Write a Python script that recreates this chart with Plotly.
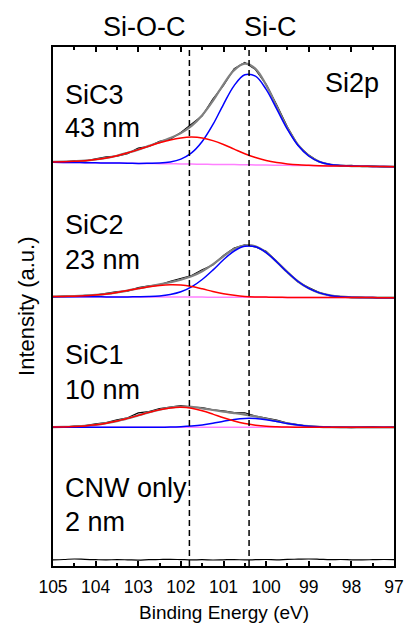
import plotly.graph_objects as go

# Binding energy grid (eV)
energy = [105.0, 104.75, 104.5, 104.25, 104.0, 103.75, 103.5, 103.25, 103.0, 102.75,
          102.5, 102.25, 102.0, 101.75, 101.5, 101.25, 101.0, 100.75, 100.5, 100.25,
          100.0, 99.75, 99.5, 99.25, 99.0, 98.75, 98.5, 98.25, 98.0, 97.75,
          97.5, 97.25, 97.0]

x_ticks = [105, 104, 103, 102, 101, 100, 99, 98, 97]
ref_lines = [101.8, 100.4]      # Si-O-C, Si-C

# ---- SiC3 (43 nm)
sic3_raw = [5.1, 4.8, 5.8, 5.7, 7.8, 9.8, 10.6, 13.1, 18.5, 20.3, 25.3, 27.6, 34.2, 42.3, 50.9,
            67.6, 81.4, 98.1, 104.2, 97.1, 82.3, 61.7, 39.7, 21.3, 11.6, 4.7, 2.4, 0.9, 1.4, 0.2,
            0.6, -0.1, 0.2]
sic3_env = [4.8, 5.0, 5.4, 6.0, 7.2, 8.8, 11.0, 13.9, 17.1, 20.8, 24.5, 28.6, 33.6, 40.8, 51.5,
            65.8, 82.4, 96.6, 103.0, 97.9, 81.8, 60.1, 38.7, 21.8, 11.0, 5.0, 2.2, 1.2, 0.6, 0.4,
            0.3, 0.1, 0.0]
sic3_bg = [4.4, 4.3, 4.2, 4.0, 3.9, 3.7, 3.6, 3.5, 3.3, 3.2, 3.0, 2.9, 2.8, 2.6, 2.5, 2.3, 2.2,
           2.1, 1.9, 1.8, 1.6, 1.5, 1.4, 1.2, 1.1, 0.9, 0.8, 0.7, 0.5, 0.4, 0.3, 0.1, 0.0]
sic3_sic = [0, 0, 0, 0, 0, 0, 0, 0, 0, 0.2, 0.6, 1.8, 4.8, 11.2, 22.7, 39.7, 60.2, 79.0, 90.0,
            88.7, 75.7, 56.0, 35.9, 19.9, 9.6, 4.0, 1.4, 0.5, 0.1, 0, 0, 0, 0]
sic3_sioc = [0.4, 0.7, 1.2, 2.0, 3.3, 5.1, 7.4, 10.4, 13.8, 17.4, 20.9, 23.9, 26.0, 27.0, 26.3,
             23.8, 20.0, 15.5, 11.1, 7.4, 4.5, 2.6, 1.4, 0.7, 0.3, 0.1, 0, 0, 0, 0, 0, 0, 0]

# ---- SiC2 (23 nm)
sic2_raw = [0.9, 1.6, 1.2, 2.4, 2.6, 4.3, 6.1, 6.6, 10.1, 11.9, 12.9, 16.5, 19.2, 22.2, 28.0,
            32.7, 42.3, 49.6, 52.9, 50.8, 46.5, 36.2, 26.4, 15.7, 10.1, 5.1, 2.0, 1.2, 0.1, 0.4,
            -0.3, 0.1, -0.3]
sic2_env = [1.1, 1.3, 1.5, 2.0, 2.8, 3.8, 5.3, 7.1, 9.2, 11.3, 13.3, 15.5, 18.0, 21.4, 26.5,
            33.3, 41.4, 48.6, 52.3, 51.3, 45.3, 35.8, 25.4, 16.2, 9.3, 4.8, 2.3, 1.0, 0.4, 0.2,
            0.1, 0.0, 0.0]
sic2_bg = [1.0, 1.0, 0.9, 0.9, 0.9, 0.8, 0.8, 0.8, 0.8, 0.7, 0.7, 0.7, 0.6, 0.6, 0.6, 0.5, 0.5,
           0.5, 0.4, 0.4, 0.4, 0.3, 0.3, 0.3, 0.3, 0.2, 0.2, 0.2, 0.1, 0.1, 0.1, 0.0, 0.0]
sic2_sic = [0, 0, 0, 0, 0, 0, 0, 0, 0.1, 0.4, 1.0, 2.5, 5.3, 10.2, 17.6, 27.1, 37.4, 46.2, 51.0,
            50.5, 44.7, 35.4, 25.1, 15.9, 9.0, 4.6, 2.1, 0.8, 0.3, 0.1, 0, 0, 0]
sic2_sioc = [0.1, 0.3, 0.6, 1.1, 1.9, 3.0, 4.5, 6.3, 8.3, 10.2, 11.6, 12.3, 12.1, 10.6, 8.3, 5.7,
             3.5, 1.9, 0.9, 0.4, 0.2, 0.1, 0, 0, 0, 0, 0, 0, 0, 0, 0, 0, 0]

# ---- SiC1 (10 nm)
sic1_raw = [0.3, 0.2, 1.2, 1.7, 3.5, 4.6, 7.4, 9.5, 14.4, 15.7, 18.8, 20.1, 21.6, 20.1, 19.8,
            17.5, 16.5, 14.6, 14.5, 11.2, 9.4, 7.2, 4.3, 2.6, 0.9, 0.8, 0.0, 0.2, -0.3, 0.2, 0.8,
            -0.2, 0.1]
sic1_env = [0.2, 0.4, 0.8, 1.4, 2.5, 4.1, 6.2, 8.9, 11.9, 14.9, 17.6, 19.6, 20.6, 20.4, 19.0,
            17.3, 15.6, 14.2, 12.7, 10.9, 8.6, 6.2, 3.9, 2.3, 1.1, 0.5, 0.2, 0, 0, 0, 0, 0, 0]
sic1_bg = [0] * 33
sic1_sic = [0, 0, 0, 0, 0, 0, 0, 0, 0, 0, 0, 0.2, 0.6, 1.3, 2.4, 4.1, 6.1, 7.9, 8.9, 8.8, 7.6,
            5.7, 3.7, 2.2, 1.1, 0.5, 0.2, 0, 0, 0, 0, 0, 0]
sic1_sioc = [0.2, 0.4, 0.8, 1.4, 2.5, 4.1, 6.2, 8.9, 11.9, 14.9, 17.6, 19.4, 20.0, 19.1, 16.6,
             13.2, 9.5, 6.3, 3.8, 2.1, 1.0, 0.5, 0.2, 0.1, 0, 0, 0, 0, 0, 0, 0, 0, 0]

# ---- CNW only (2 nm)
cnw_raw = [0.2, 0.5, 1.0, 0.6, 0.3, 0.1, 0.4, 0.2, -0.1, 0.3, 0.5, 0.7, 0.4, 0.1, 0.3, 0.0, 0.2,
           0.4, 0.1, 0.3, 0.5, 0.2, 0.6, 0.8, 1.0, 0.7, 0.3, 0.5, 0.2, 0.1, 0.3, 0.5, 0.4]

# stacking offsets (a.u.)
offsets = {"SiC3": 399.3, "SiC2": 268.3, "SiC1": 138.7, "CNW": 6.0}

FONT = "Arial, Liberation Sans, sans-serif"
PINK = "#ff80ff"
GRAY = "#808080"

fig = go.Figure()


def add(y, off, color, width, shape="spline"):
    fig.add_trace(go.Scatter(x=energy, y=[v + off for v in y], mode="lines",
                             line=dict(color=color, width=width, shape=shape),
                             showlegend=False, hoverinfo="skip"))


for name, raw, env, bg, sic, sioc in [
        ("SiC3", sic3_raw, sic3_env, sic3_bg, sic3_sic, sic3_sioc),
        ("SiC2", sic2_raw, sic2_env, sic2_bg, sic2_sic, sic2_sioc),
        ("SiC1", sic1_raw, sic1_env, sic1_bg, sic1_sic, sic1_sioc)]:
    off = offsets[name]
    add(bg, off, PINK, 1.5)
    add(raw, off, "black", 1.2, "linear")
    add(env, off, GRAY, 2.2)
    add([b + s for b, s in zip(bg, sic)], off, "#0000ff", 1.5)
    add([b + s for b, s in zip(bg, sioc)], off, "#ff0000", 1.5)

add(cnw_raw, offsets["CNW"], "black", 1.2, "spline")

for xv in ref_lines:
    fig.add_shape(type="line", x0=xv, x1=xv, xref="x", y0=0, y1=1, yref="paper",
                  line=dict(color="black", width=1.5, dash="6px,4px"))

ann = [
    ("SiC3", 104.77, 471), ("43 nm", 104.77, 438),
    ("SiC2", 104.77, 341), ("23 nm", 104.77, 306),
    ("SiC1", 104.77, 211), ("10 nm", 104.77, 176),
    ("CNW only", 104.77, 78), ("2 nm", 104.77, 44),
]
for t, xx, yy in ann:
    fig.add_annotation(text=t, x=xx, y=yy, xref="x", yref="y", xanchor="left",
                       yanchor="middle", showarrow=False,
                       font=dict(family=FONT, size=27, color="black"))

fig.add_annotation(text="Si2p", x=97.98, y=483, xref="x", yref="y", showarrow=False,
                   font=dict(family=FONT, size=27, color="black"))
fig.add_annotation(text="Si-O-C", x=102.85, y=1.0385, xref="x", yref="paper",
                   showarrow=False, yanchor="middle",
                   font=dict(family=FONT, size=27, color="black"))
fig.add_annotation(text="Si-C", x=99.9, y=1.0385, xref="x", yref="paper",
                   showarrow=False, yanchor="middle",
                   font=dict(family=FONT, size=27, color="black"))
fig.add_annotation(text="Binding Energy (eV)", x=0.5, y=-0.0905, xref="paper", yref="paper",
                   showarrow=False, yanchor="middle",
                   font=dict(family=FONT, size=19, color="black"))
fig.add_annotation(text="Intensity (a.u.)", x=-0.078, y=0.5, xref="paper", yref="paper",
                   showarrow=False, textangle=-90, xanchor="center", yanchor="middle",
                   font=dict(family=FONT, size=22, color="black"))

fig.update_layout(
    width=416, height=624,
    margin=dict(l=53, r=13, t=47, b=58),
    paper_bgcolor="white", plot_bgcolor="white",
    font=dict(family=FONT, color="black"),
    xaxis=dict(range=[105, 97], tickvals=x_ticks, ticks="inside", ticklen=5, tickwidth=1.5,
               tickcolor="black", showline=True, linewidth=2, linecolor="black",
               mirror="allticks", showgrid=False, zeroline=False, ticklabelstandoff=4,
               tickfont=dict(family=FONT, size=17.5, color="black"),
               minor=dict(dtick=0.5, tick0=97, ticks="inside", ticklen=3, tickwidth=1.5,
                          tickcolor="black", showgrid=False)),
    yaxis=dict(range=[0, 519], showline=True, linewidth=2, linecolor="black", mirror=True,
               showticklabels=False, ticks="", showgrid=False, zeroline=False),
)

fig.write_html("out.html", config={"displayModeBar": False},
               post_script="document.body.style.margin='0';"
                           "document.body.style.overflow='hidden';")
